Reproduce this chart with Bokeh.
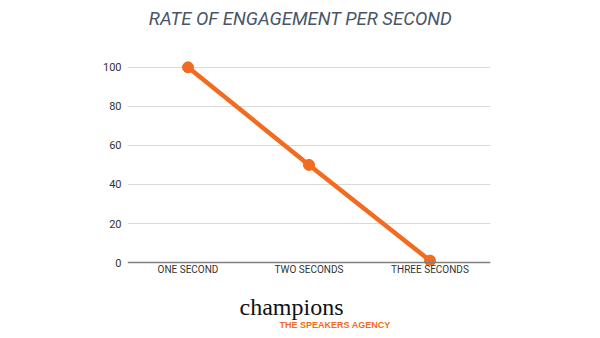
from bokeh.plotting import figure
from bokeh.layouts import column
from bokeh.models import FactorRange, Range1d, FixedTicker, Span
from bokeh.core.properties import value
from bokeh.embed import file_html
from bokeh.resources import INLINE

categories = ["ONE SECOND", "TWO SECONDS", "THREE SECONDS"]
engagement = [100, 50, 1]
y_ticks = [0, 20, 40, 60, 80, 100]
title_text = "RATE OF ENGAGEMENT PER SECOND"
logo_main = "champions"
logo_sub = "THE SPEAKERS AGENCY"

ORANGE = "#F26B21"
W = 600
LEFT, RIGHT = 127, 110


def blank(height):
    # frames of a column are aligned, so map the x range onto the frame's screen span
    f = figure(width=W, height=height, x_range=Range1d(LEFT, W - RIGHT), y_range=Range1d(0, height),
               x_axis_type=None, y_axis_type=None, output_backend="svg",
               toolbar_location=None, min_border=0,
               min_border_left=LEFT, min_border_right=RIGHT)
    f.outline_line_color = None
    f.background_fill_color = "white"
    f.border_fill_color = "white"
    return f


# header with title
head = blank(40)
head.text(x=[300], y=[22], text=[title_text], text_font=value("Roboto"),
          text_font_style="italic", text_font_size="18.5px", text_color="#4a5568",
          text_align="center", text_baseline="middle")

# main chart
p = figure(width=W, height=252, x_range=FactorRange(factors=categories, range_padding=0),
           y_range=Range1d(-1.5, 104), output_backend="svg", toolbar_location=None,
           min_border_left=LEFT, min_border_right=RIGHT, min_border_top=19, min_border_bottom=27)
p.outline_line_color = None
p.background_fill_color = "white"
p.border_fill_color = "white"

p.yaxis.ticker = FixedTicker(ticks=y_ticks)
p.yaxis.axis_line_color = None
p.yaxis.major_tick_line_color = None
p.yaxis.minor_tick_line_color = None
p.yaxis.major_tick_out = 0
p.yaxis.major_label_text_font = "Roboto"
p.yaxis.major_label_text_font_size = "11px"
p.yaxis.major_label_text_color = "#333333"
p.yaxis.major_label_standoff = 6

p.xaxis.axis_line_color = None
p.xaxis.major_tick_line_color = None
p.xaxis.major_tick_out = 0
p.xaxis.major_label_text_font = "Roboto"
p.xaxis.major_label_text_font_size = "10px"
p.xaxis.major_label_text_color = "#333333"
p.xaxis.major_label_standoff = -2

p.xgrid.grid_line_color = None
p.ygrid.grid_line_color = "#d9d9d9"
p.ygrid.grid_line_width = 1

p.add_layout(Span(location=0, dimension="width", line_color="#7f7f7f", line_width=1.5))

p.line(categories, engagement, line_color=ORANGE, line_width=4.5)
p.scatter(categories, engagement, size=11, fill_color=ORANGE, line_color=ORANGE)

# logo footer
foot = blank(46)
foot.text(x=[239], y=[32], text=[logo_main], text_font=value("Liberation Serif"),
          text_font_size="24px", text_color="#111111",
          text_align="left", text_baseline="alphabetic")
foot.text(x=[279], y=[14], text=[logo_sub], text_font=value("Liberation Sans"),
          text_font_style="bold", text_font_size="9px", text_color=ORANGE,
          text_align="left", text_baseline="middle")

layout = column(head, p, foot, spacing=0)
open("out.html", "w").write(file_html(layout, INLINE))
